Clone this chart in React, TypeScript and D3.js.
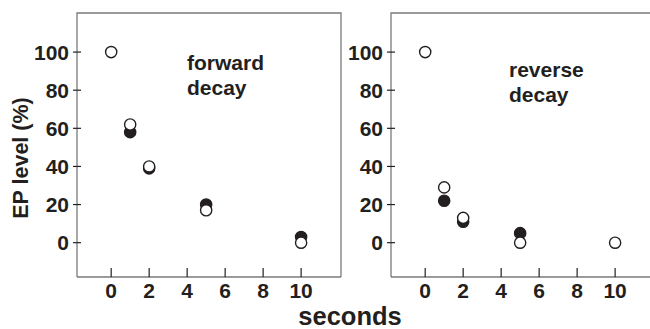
import React from "react";
import * as d3 from "d3";

const xTicks = [0, 2, 4, 6, 8, 10];
const yTicks = [0, 20, 40, 60, 80, 100];

const fwdOpenX = [0, 1, 2, 5, 10];
const fwdOpenY = [100, 62, 40, 17, 0];
const fwdFilledX = [1, 2, 5, 10];
const fwdFilledY = [58, 39, 20, 3];

const revOpenX = [0, 1, 2, 5, 10];
const revOpenY = [100, 29, 13, 0, 0];
const revFilledX = [1, 2, 5];
const revFilledY = [22, 11, 5];

const panels = [
  { left: 77, label: ["forward", "decay"], lx: 187, ly: 70, openX: fwdOpenX, openY: fwdOpenY, filledX: fwdFilledX, filledY: fwdFilledY },
  { left: 391, label: ["reverse", "decay"], lx: 509, ly: 77, openX: revOpenX, openY: revOpenY, filledX: revFilledX, filledY: revFilledY },
];

const W = 264;
const TOP = 13;
const BOTTOM = 277;
const FONT = "'Liberation Sans', Arial, Helvetica, sans-serif";
const INK = "#231f20";
const LINE = "#7a7a7a";

function SText({ x, y, size, anchor = "start", children }: any) {
  return (
    <text
      x={x}
      y={y}
      fontFamily={FONT}
      fontWeight="bold"
      fontSize={size}
      fill={INK}
      textAnchor={anchor}
    >
      {children}
    </text>
  );
}

function Panel({ p }: any) {
  const x = d3.scaleLinear().domain([-1.8, 12.1]).range([p.left, p.left + W]);
  const y = d3.scaleLinear().domain([-18, 120.5]).range([BOTTOM, TOP]);
  const r = 5.6;
  return (
    <g>
      <path
        d={`M${p.left},${BOTTOM}V${TOP}H${p.left + W}V${BOTTOM}`}
        fill="none"
        stroke={LINE}
        strokeWidth={1.3}
      />
      <line x1={p.left} x2={p.left + W} y1={BOTTOM} y2={BOTTOM} stroke={LINE} strokeWidth={1.6} />
      {yTicks.map((t) => (
        <g key={"y" + t}>
          <line x1={p.left - 4} x2={p.left + 4} y1={y(t)} y2={y(t)} stroke={INK} strokeWidth={1.2} />
          <SText x={p.left - 8} y={y(t) + 7.5} size={21} anchor="end">
            {t}
          </SText>
        </g>
      ))}
      {xTicks.map((t) => (
        <g key={"x" + t}>
          <line x1={x(t)} x2={x(t)} y1={BOTTOM} y2={BOTTOM - 9} stroke={INK} strokeWidth={1.2} />
          <SText x={x(t)} y={298} size={21} anchor="middle">
            {t}
          </SText>
        </g>
      ))}
      <SText x={p.lx} y={p.ly} size={21}>
        {p.label[0]}
      </SText>
      <SText x={p.lx} y={p.ly + 25} size={21}>
        {p.label[1]}
      </SText>
      {p.filledX.map((v: number, i: number) => (
        <circle key={"f" + i} cx={x(v)} cy={y(p.filledY[i])} r={r} fill={INK} stroke={INK} strokeWidth={1.4} />
      ))}
      {p.openX.map((v: number, i: number) => (
        <circle key={"o" + i} cx={x(v)} cy={y(p.openY[i])} r={r} fill="#fff" stroke={INK} strokeWidth={1.4} />
      ))}
    </g>
  );
}

export default function App() {
  return (
    <svg
      width={650}
      height={329}
      style={{ position: "absolute", left: 0, top: 0, background: "#fff" }}
    >
      <rect width={650} height={329} fill="#fff" />
      {panels.map((p, i) => (
        <Panel key={i} p={p} />
      ))}
      <text
        transform="translate(28,158) rotate(-90)"
        fontFamily={FONT}
        fontWeight="bold"
        fontSize={21.5}
        fill={INK}
        textAnchor="middle"
      >
        EP level (%)
      </text>
      <SText x={350} y={325} size={25.5} anchor="middle">
        seconds
      </SText>
    </svg>
  );
}
